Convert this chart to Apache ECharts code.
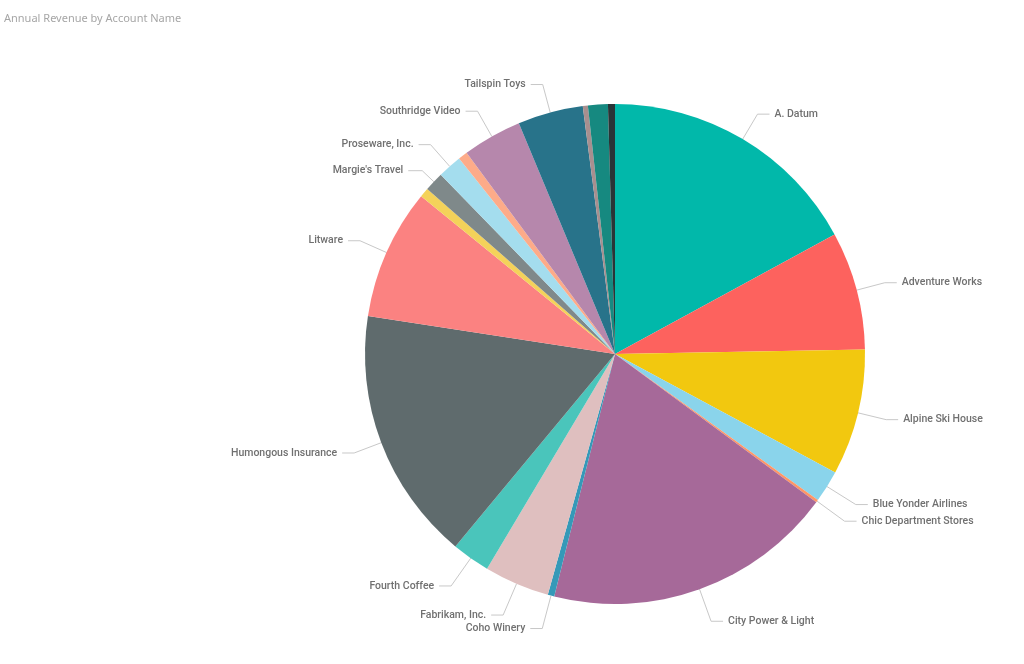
<!DOCTYPE html>
<html>
<head>
<meta charset="utf-8">
<script src="https://cdn.jsdelivr.net/npm/echarts@6/dist/echarts.min.js"></script>
<style>
html,body{margin:0;padding:0;background:#fff;}
#chart{width:1024px;height:664px;}
</style>
</head>
<body>
<div id="chart"></div>
<script>
var categories = ["A. Datum","Adventure Works","Alpine Ski House","Blue Yonder Airlines","Chic Department Stores","City Power & Light","Coho Winery","Fabrikam, Inc.","Fourth Coffee","Humongous Insurance","Litware","Lucerne Publishing","Margie's Travel","Proseware, Inc.","Relecloud","Southridge Video","Tailspin Toys","Trey Research","Wide World Importers","Wingtip Toys"];
var revenue = [17.06,7.64,8.14,2.08,0.17,18.8,0.42,4.22,2.47,16.4,8.44,0.6,1.25,1.56,0.6,3.83,4.22,0.33,1.28,0.45];
var colors = ["#01B8AA","#FD625E","#F2C80F","#8AD4EB","#FE9666","#A66999","#3599B8","#DFBFBF","#4AC5BB","#5F6B6D","#FB8281","#F4D25A","#7F898A","#A4DDEE","#FDAB89","#B687AC","#28738A","#A78F8F","#168980","#293537"];
var hiddenLabels = ["Lucerne Publishing","Relecloud","Trey Research","Wide World Importers","Wingtip Toys"];
var longLines = ["Blue Yonder Airlines","Chic Department Stores","City Power & Light","Coho Winery","Fabrikam, Inc.","Fourth Coffee"];

var data = categories.map(function(c,i){
  var d = {name:c, value:revenue[i], itemStyle:{color:colors[i]}};
  if (hiddenLabels.indexOf(c) >= 0) { d.label = {show:false}; d.labelLine = {show:false}; }
  if (c === "Margie's Travel") { d.labelLine = {length:16, length2:14}; }
  if (longLines.indexOf(c) >= 0) { d.labelLine = {length:34}; }
  return d;
});

var chart = echarts.init(document.getElementById('chart'), null, {renderer:'canvas'});
chart.setOption({
  animation:false,
  backgroundColor:'#ffffff',
  title:{
    text:'Annual Revenue by Account Name',
    left:-1, top:8,
    textStyle:{fontFamily:'Noto Sans', fontSize:11, fontWeight:'normal', color:'#A6A6A6'}
  },
  series:[{
    type:'pie',
    center:[615,354],
    radius:[0,250],
    startAngle:90,
    clockwise:true,
    avoidLabelOverlap:true,
    data:data,
    itemStyle:{borderWidth:0},
    label:{
      show:true,
      position:'outside',
      fontFamily:'Roboto',
      fontSize:10.5,
      fontWeight:500,
      color:'#707070',
      distanceToLabelLine:5
    },
    labelLine:{
      show:true,
      length:29,
      length2:12,
      smooth:false,
      lineStyle:{color:'#C8C8C8', width:1}
    }
  }]
});
</script>
</body>
</html>
